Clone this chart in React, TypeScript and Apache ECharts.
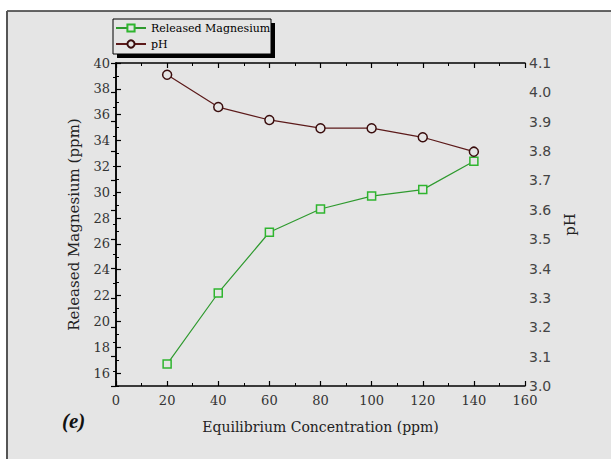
import React, { useEffect, useRef } from 'react';
import * as echarts from 'echarts';

const xValues = [20, 40, 60, 80, 100, 120, 140];
const magnesiumValues = [16.7, 22.2, 26.9, 28.7, 29.7, 30.2, 32.4];
const phValues = [4.06, 3.95, 3.906, 3.878, 3.878, 3.847, 3.798];
const seriesNames = ['Released Magnesium', 'pH'];
const leftMajorTicks = [16, 18, 20, 22, 24, 26, 28, 30, 32, 34, 36, 38, 40];
const xTitle = 'Equilibrium Concentration (ppm)';
const leftTitle = 'Released Magnesium (ppm)';
const rightTitle = 'pH';
const panelLabel = '(e)';

const BG = '#e5e5e5';
const serif = 'DejaVu Serif';

const lineCommon = { lineStyle: { color: '#000', width: 1.5 } };
const tickCommon = { show: true, inside: true, length: 5, lineStyle: { color: '#000', width: 1.2 } };
const minorCommon = { show: true, splitNumber: 2, length: 3, lineStyle: { color: '#000', width: 1 } };

export default function App() {
  const ref = useRef<HTMLDivElement>(null);
  useEffect(() => {
    document.body.style.margin = '0';
    const chart = echarts.init(ref.current!, null, { renderer: 'svg' });
    const option: any = {
      animation: false,
      backgroundColor: '#fff',
      title: {
        text: panelLabel,
        left: 62,
        top: 410,
        padding: 0,
        textStyle: { fontFamily: 'Liberation Serif', fontStyle: 'italic', fontWeight: 'bold', fontSize: 21, color: '#111' },
      },
      graphic: [
        { type: 'rect', z: -10, silent: true, shape: { x: 7, y: 11, width: 604, height: 448 }, style: { fill: BG } },
        { type: 'line', z: -9, silent: true, shape: { x1: 7, y1: 11, x2: 611, y2: 11 }, style: { stroke: '#333', lineWidth: 1.5 } },
        { type: 'line', z: -9, silent: true, shape: { x1: 7, y1: 11, x2: 7, y2: 459 }, style: { stroke: '#555', lineWidth: 2 } },
        { type: 'rect', z: 1, silent: true, shape: { x: 117, y: 23, width: 158, height: 35 }, style: { fill: '#000' } },
        { type: 'rect', z: 1, silent: true, shape: { x: 113, y: 19, width: 158, height: 35 }, style: { fill: BG, stroke: '#000', lineWidth: 1 } },
      ],
      legend: {
        data: seriesNames,
        orient: 'vertical',
        left: 115,
        top: 22,
        padding: 0,
        itemWidth: 30,
        itemHeight: 9,
        itemGap: 4,
        textStyle: { fontFamily: serif, fontSize: 11, color: '#000', lineHeight: 12 },
      },
      grid: { left: 116, right: 86, top: 63, bottom: 73, containLabel: false },
      xAxis: [
        {
          type: 'value', position: 'bottom', min: 0, max: 160, interval: 20,
          name: xTitle, nameLocation: 'middle', nameGap: 34,
          nameTextStyle: { fontFamily: serif, fontSize: 14, color: '#222' },
          axisLine: lineCommon, axisTick: tickCommon, minorTick: minorCommon,
          splitLine: { show: false },
          axisLabel: { fontFamily: serif, fontSize: 13, color: '#333', margin: 8 },
        },
        {
          type: 'value', position: 'top', min: 0, max: 160, interval: 20,
          axisLine: lineCommon, axisTick: tickCommon, minorTick: minorCommon,
          splitLine: { show: false }, axisLabel: { show: false },
        },
      ],
      yAxis: [
        {
          type: 'value', position: 'left', min: 15, max: 40, interval: 1,
          name: leftTitle, nameLocation: 'middle', nameGap: 35, nameRotate: 90,
          nameTextStyle: { fontFamily: serif, fontSize: 15, color: '#222' },
          axisLine: lineCommon,
          axisTick: { ...tickCommon, customValues: leftMajorTicks },
          splitLine: { show: false },
          axisLabel: {
            fontFamily: serif, fontSize: 13, color: '#333', margin: 6,
            customValues: leftMajorTicks,
            formatter: (v: number) => (v % 2 === 0 ? String(v) : ''),
          },
        },
        {
          type: 'value', position: 'right', min: 3.0, max: 4.1, interval: 0.1,
          name: rightTitle, nameLocation: 'middle', nameGap: 35, nameRotate: 90,
          nameTextStyle: { fontFamily: serif, fontSize: 15, color: '#222' },
          axisLine: lineCommon, axisTick: tickCommon, minorTick: minorCommon,
          splitLine: { show: false },
          axisLabel: { fontFamily: 'DejaVu Sans', fontSize: 14, color: '#444', margin: 4, formatter: (v: number) => v.toFixed(1) },
        },
        {
          type: 'value', position: 'left', min: 15, max: 40, interval: 1,
          axisLine: { show: false },
          axisTick: { show: true, inside: true, length: 3, lineStyle: { color: '#000', width: 1 } },
          splitLine: { show: false }, axisLabel: { show: false },
        },
      ],
      series: [
        {
          name: seriesNames[0], type: 'line', xAxisIndex: 0, yAxisIndex: 0, z: 3,
          data: xValues.map((x, i) => [x, magnesiumValues[i]]),
          symbol: 'rect', symbolSize: 8,
          lineStyle: { color: '#2f9a2f', width: 1.2 },
          itemStyle: { color: BG, borderColor: '#2fb52f', borderWidth: 1.5 },
        },
        {
          name: seriesNames[1], type: 'line', xAxisIndex: 0, yAxisIndex: 1, z: 4,
          data: xValues.map((x, i) => [x, phValues[i]]),
          symbol: 'circle', symbolSize: 9,
          lineStyle: { color: '#5c1a1a', width: 1.2 },
          itemStyle: { color: BG, borderColor: '#3a0d0d', borderWidth: 1.5 },
        },
      ],
    };
    chart.setOption(option);
    return () => chart.dispose();
  }, []);
  return <div ref={ref} style={{ width: 611, height: 459 }} />;
}
